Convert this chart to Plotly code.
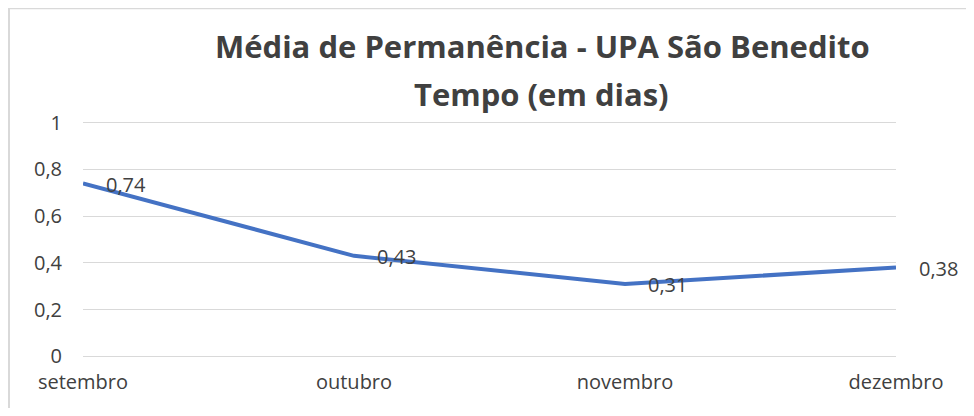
import plotly.graph_objects as go

months = ["setembro", "outubro", "novembro", "dezembro"]
values = [0.74, 0.43, 0.31, 0.38]
labels = ["0,74", "0,43", "0,31", "0,38"]
y_ticks = [0, 0.2, 0.4, 0.6, 0.8, 1]
y_tick_text = ["0", "0,2", "0,4", "0,6", "0,8", "1"]
title_line1 = "Média de Permanência - UPA São Benedito"
title_line2 = "Tempo (em dias)"

W, H = 958, 400
pad = 0.02
unit = 233.0  # pixels per y unit
L, R = 75, 70
T = 115 - pad * unit
B = 52 - pad * unit
PW, PH = W - L - R, H - T - B

fig = go.Figure()
fig.add_trace(go.Scatter(
    x=list(range(len(months))), y=values, mode="lines",
    line=dict(color="#4472C4", width=4), hoverinfo="skip", showlegend=False,
))

for i, (v, t) in enumerate(zip(values, labels)):
    fig.add_annotation(x=i, y=v, text=t, showarrow=False, xanchor="left", yanchor="middle",
                       xshift=21, yshift=-1,
                       font=dict(family="Open Sans", size=20, color="#404040"))

title_font = dict(family="Open Sans", size=31, color="#404040")
fig.add_annotation(xref="paper", yref="paper", x=(542 - L - 8) / PW, y=1 + (T - (47 - 8)) / PH,
                   text="<b>" + title_line1 + "</b>", showarrow=False,
                   xanchor="center", yanchor="middle", font=title_font)
fig.add_annotation(xref="paper", yref="paper", x=(541 - L - 8) / PW, y=1 + (T - (94 - 8)) / PH,
                   text="<b>" + title_line2 + "</b>", showarrow=False,
                   xanchor="center", yanchor="middle", font=title_font)

fig.update_layout(
    width=W, height=H,
    margin=dict(l=L, r=R, t=T, b=B),
    paper_bgcolor="white", plot_bgcolor="white",
    xaxis=dict(range=[0, len(months) - 1], tickmode="array",
               tickvals=list(range(len(months))), ticktext=months,
               showgrid=False, zeroline=False, showline=False, ticks="",
               tickfont=dict(family="Open Sans", size=20, color="#404040"),
               ticklabelstandoff=7),
    yaxis=dict(range=[-pad, 1 + pad], tickmode="array", tickvals=y_ticks, ticktext=y_tick_text,
               showgrid=True, gridcolor="#d9d9d9", gridwidth=1, zeroline=False,
               showline=False, ticks="",
               tickfont=dict(family="Open Sans", size=20, color="#404040"),
               ticklabelstandoff=20),
    font=dict(family="Open Sans"),
    shapes=[dict(type="rect", xref="paper", yref="paper",
                 x0=-(L - 1) / PW, x1=2, y0=-1, y1=1 + (T - 1) / PH,
                 line=dict(color="#d9d9d9", width=2), fillcolor="rgba(0,0,0,0)", layer="below")],
)

fig.write_html("out.html")
